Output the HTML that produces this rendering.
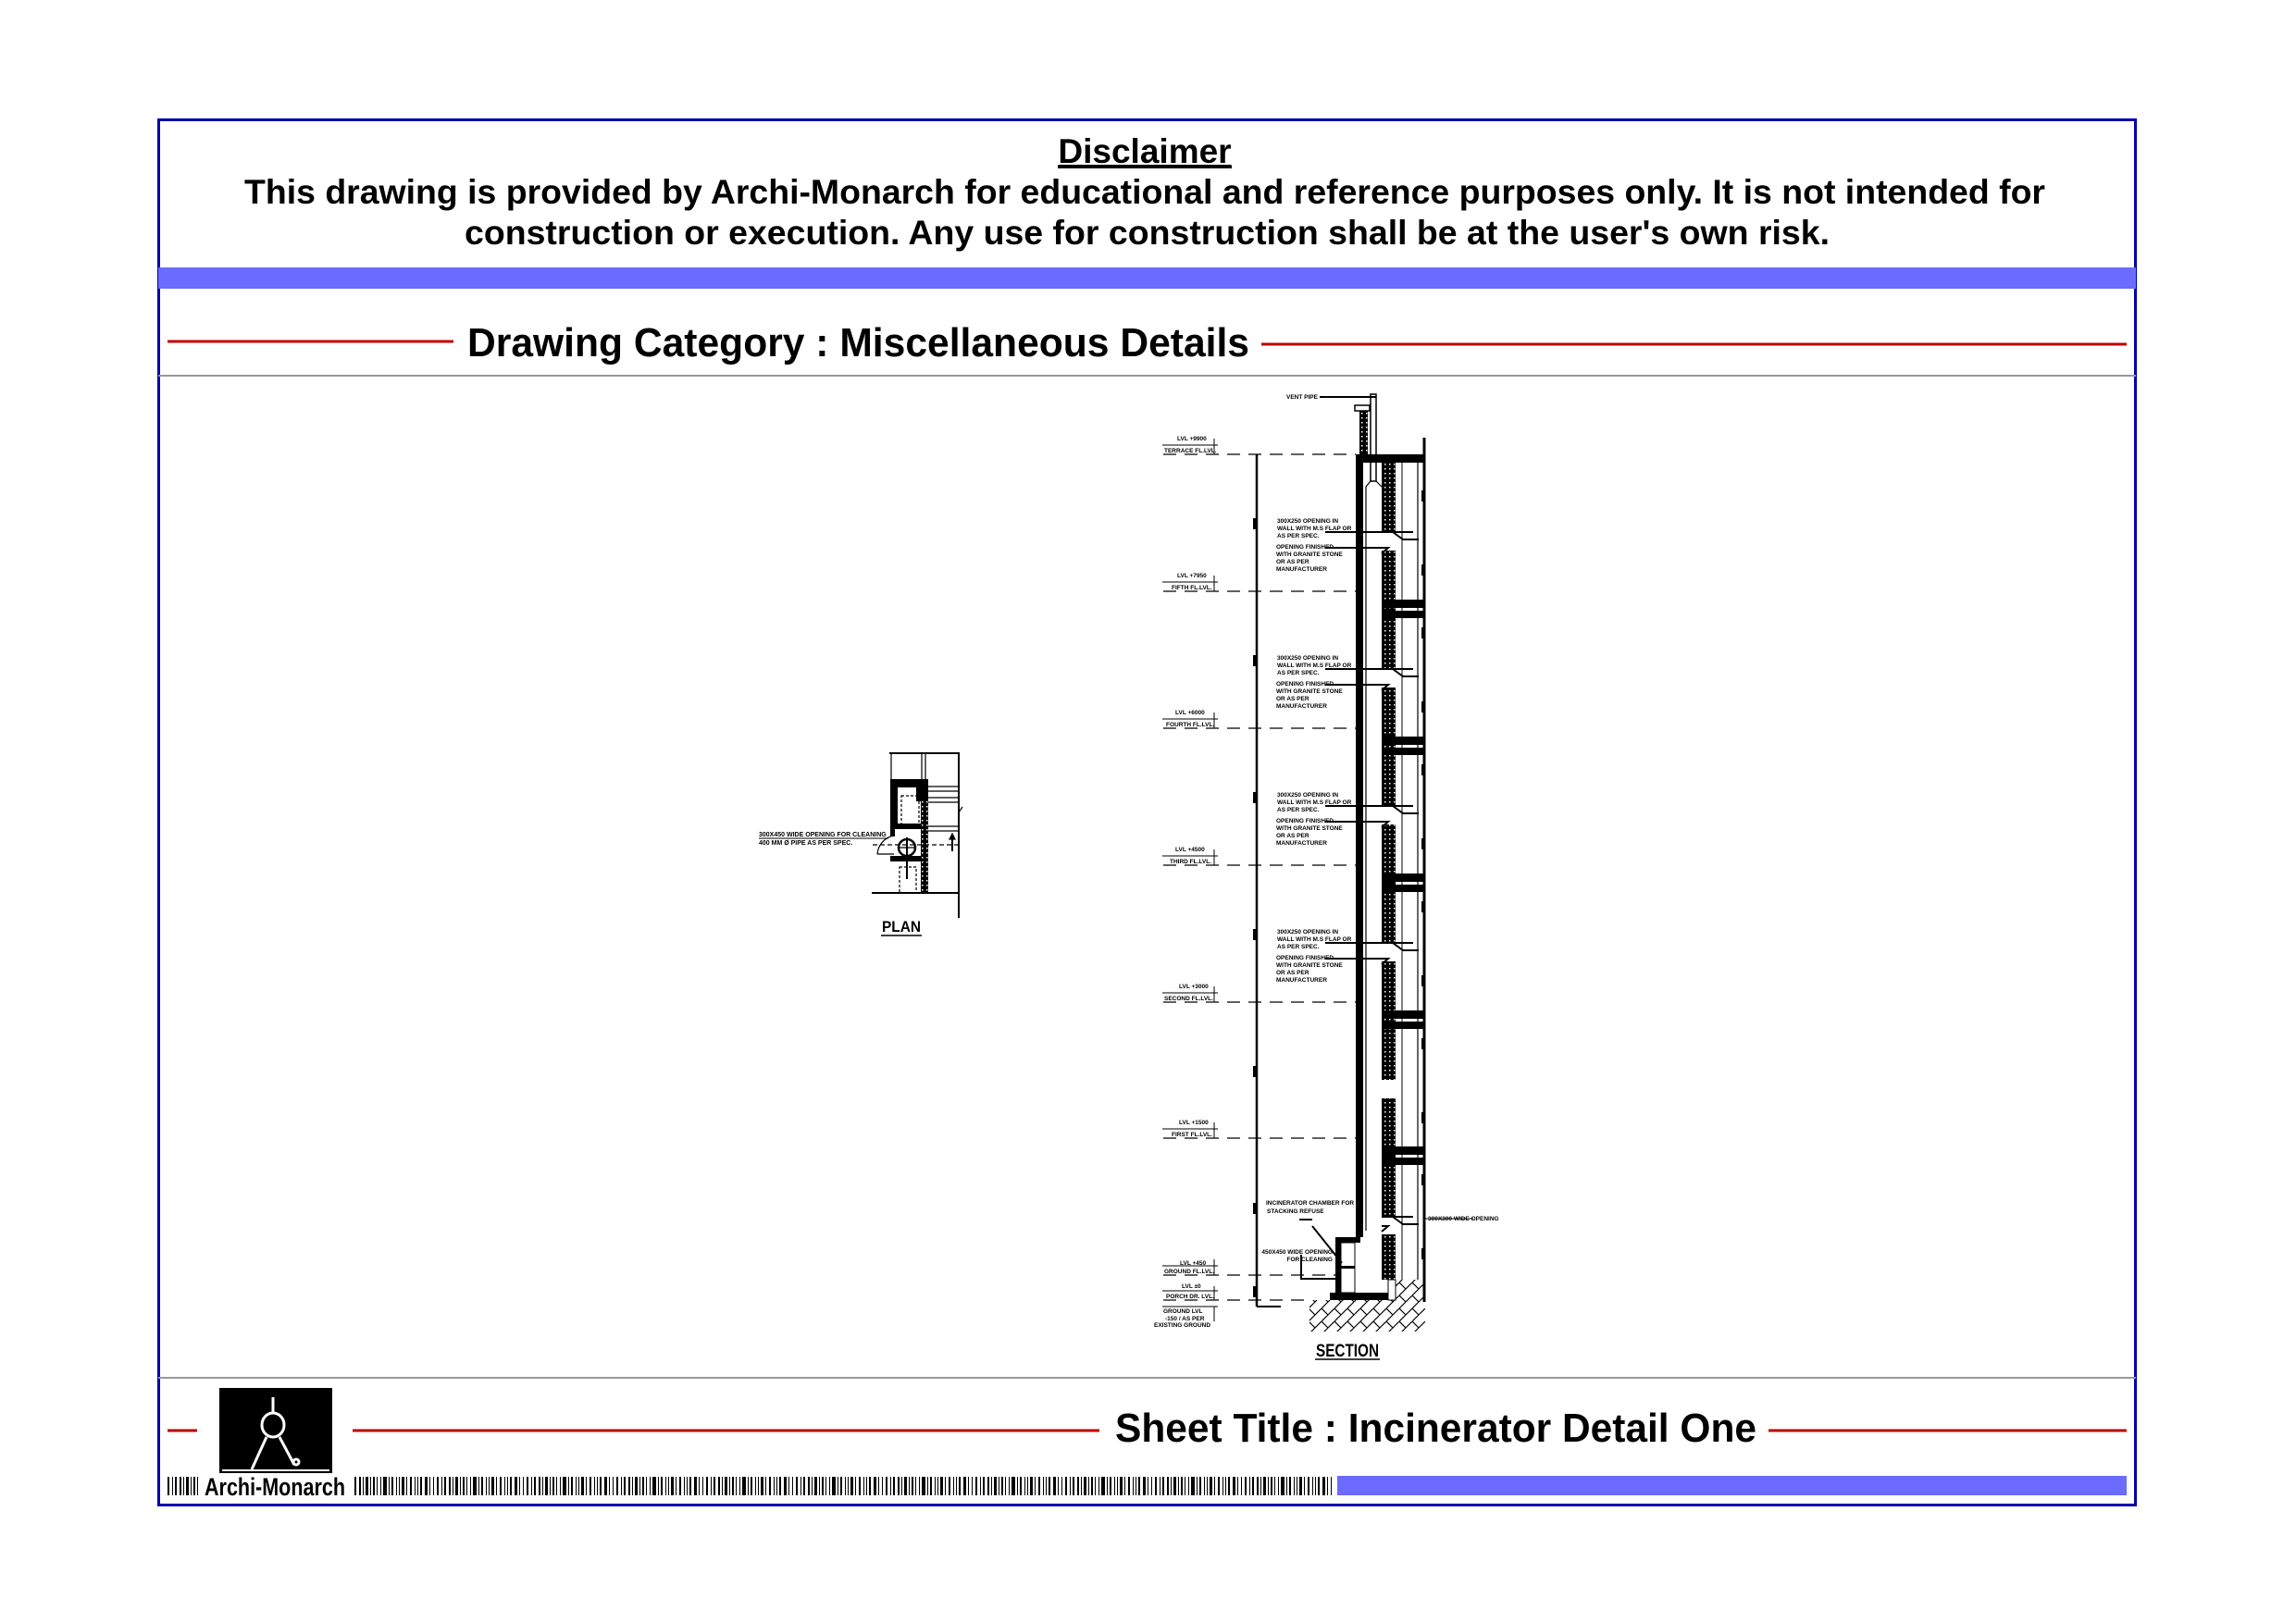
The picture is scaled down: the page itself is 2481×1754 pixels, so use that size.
<!DOCTYPE html>
<html><head><meta charset="utf-8"><style>
html,body{margin:0;padding:0;background:#fff;}
svg{display:block;}
text{font-family:"Liberation Sans",Arial,sans-serif;font-weight:bold;fill:#000;}
</style></head><body>
<svg width="2481" height="1754" viewBox="0 0 2481 1754" xmlns="http://www.w3.org/2000/svg">
<defs>
<pattern id="hatch" width="14" height="14" patternUnits="userSpaceOnUse">
<path d="M0 14L7 7M7 7L14 0M0 0L7 7" stroke="#000" stroke-width="1.2" fill="none"/>
</pattern>
<pattern id="dh" width="5" height="5" patternUnits="userSpaceOnUse">
<rect width="5" height="5" fill="#000"/><rect x="1" y="1" width="1.5" height="1.5" fill="#fff"/>
</pattern>
<pattern id="bc" width="97" height="20" patternUnits="userSpaceOnUse">
<rect x="0" width="2" height="20"/><rect x="4" width="1" height="20"/><rect x="7" width="3" height="20"/><rect x="12" width="1" height="20"/><rect x="15" width="2" height="20"/><rect x="19" width="1" height="20"/><rect x="23" width="1" height="20"/><rect x="26" width="4" height="20"/><rect x="32" width="1" height="20"/><rect x="35" width="2" height="20"/><rect x="40" width="1" height="20"/><rect x="43" width="1" height="20"/><rect x="46" width="3" height="20"/><rect x="51" width="1" height="20"/><rect x="55" width="2" height="20"/><rect x="60" width="1" height="20"/><rect x="63" width="1" height="20"/><rect x="66" width="2" height="20"/><rect x="71" width="3" height="20"/><rect x="76" width="1" height="20"/><rect x="80" width="1" height="20"/><rect x="84" width="2" height="20"/><rect x="89" width="1" height="20"/><rect x="92" width="2" height="20"/>
</pattern>
</defs>

<!-- frame -->
<rect x="171.5" y="129.5" width="2136" height="1497" fill="none" stroke="#0000aa" stroke-width="3"/>
<rect x="171" y="289" width="2137" height="23" fill="#6b6bff"/>
<line x1="171" y1="406" x2="2308" y2="406" stroke="#999" stroke-width="2"/>
<line x1="171" y1="1489" x2="2308" y2="1489" stroke="#999" stroke-width="2"/>

<!-- disclaimer -->
<text x="1237" y="176" font-size="37" text-anchor="middle" text-decoration="underline">Disclaimer</text>
<rect x="1143" y="179" width="188" height="3"/>
<text x="264" y="220" font-size="37" textLength="1946" lengthAdjust="spacingAndGlyphs">This drawing is provided by Archi-Monarch for educational and reference purposes only. It is not intended for</text>
<text x="502" y="264" font-size="37" textLength="1475" lengthAdjust="spacingAndGlyphs">construction or execution. Any use for construction shall be at the user's own risk.</text>

<!-- category -->
<line x1="181" y1="369" x2="490" y2="369" stroke="#c00000" stroke-width="3"/>
<text x="505" y="385" font-size="44" textLength="845" lengthAdjust="spacingAndGlyphs">Drawing Category : Miscellaneous Details</text>
<line x1="1363" y1="372" x2="2298" y2="372" stroke="#c00000" stroke-width="3"/>

<!-- bottom -->
<line x1="181" y1="1546" x2="213" y2="1546" stroke="#c00000" stroke-width="3"/>
<rect x="237" y="1500" width="122" height="92" fill="#000"/>
<g stroke="#fff" stroke-width="3" fill="none">
<line x1="295" y1="1510" x2="295" y2="1528"/>
<ellipse cx="295" cy="1540" rx="12" ry="13"/>
<line x1="288" y1="1553" x2="272" y2="1588"/>
<line x1="302" y1="1553" x2="318" y2="1583"/>
<circle cx="320" cy="1580" r="3"/>
<line x1="240" y1="1589" x2="356" y2="1589" stroke-width="2"/>
</g>
<line x1="381" y1="1546" x2="1188" y2="1546" stroke="#c00000" stroke-width="3"/>
<text x="1205" y="1558" font-size="44" textLength="693" lengthAdjust="spacingAndGlyphs">Sheet Title : Incinerator Detail One</text>
<line x1="1911" y1="1546" x2="2298" y2="1546" stroke="#c00000" stroke-width="3"/>
<rect x="181" y="1596" width="35" height="20" fill="url(#bc)"/>
<text x="221" y="1616" font-size="27" textLength="152" lengthAdjust="spacingAndGlyphs" font-weight="normal">Archi-Monarch</text>
<rect x="381" y="1596" width="1060" height="20" fill="url(#bc)"/>
<rect x="1445" y="1595" width="853" height="21" fill="#6b6bff"/>

<!-- PLAN -->
<g stroke="#000" fill="none" stroke-width="1.2">
<line x1="961" y1="814" x2="1037" y2="814" stroke-width="2"/>
<line x1="1036" y1="814" x2="1036" y2="992" stroke-width="2"/>
<line x1="942" y1="965" x2="1036" y2="965" stroke-width="2"/>
<line x1="963" y1="814" x2="963" y2="842"/><line x1="996" y1="814" x2="996" y2="842"/><line x1="1000" y1="814" x2="1000" y2="842"/>
<line x1="1003" y1="850" x2="1036" y2="850"/><line x1="1003" y1="855" x2="1036" y2="855"/>
<line x1="1003" y1="862" x2="1036" y2="862"/><line x1="1003" y1="867" x2="1036" y2="867"/>
<line x1="1003" y1="893" x2="1036" y2="893"/><line x1="1003" y1="898" x2="1036" y2="898"/>
<line x1="943" y1="913" x2="1036" y2="913" stroke-dasharray="5,3"/>
<path d="M948 923 A22 22 0 0 1 966 903"/>
<line x1="948" y1="923" x2="966" y2="923"/>
<circle cx="980" cy="916" r="9" stroke-width="2.5"/>
<line x1="980" y1="905" x2="980" y2="950" stroke-width="2"/>
<line x1="970" y1="916" x2="990" y2="916"/>
<rect x="974" y="860" width="19" height="32" stroke-dasharray="3,2"/>
<rect x="972" y="937" width="18" height="28" stroke-dasharray="3,2"/>
<line x1="1029" y1="902" x2="1029" y2="920" stroke-width="2"/>
<path d="M1026 907 L1029 901 L1032 907Z" fill="#000"/>
<line x1="1036" y1="878" x2="1040" y2="872"/>
</g>
<g fill="#000">
<rect x="962" y="842" width="41" height="9"/>
<rect x="962" y="842" width="8" height="50"/>
<rect x="990" y="842" width="13" height="24"/>
<rect x="995" y="866" width="8" height="99" fill="url(#dh)"/>
<rect x="962" y="890" width="33" height="6"/>
<rect x="962" y="925" width="33" height="6"/>
<rect x="962" y="896" width="5" height="8"/>
</g>
<line x1="820" y1="906" x2="960" y2="906" stroke="#000" stroke-width="1"/>
<text x="820" y="904" font-size="7">300X450 WIDE OPENING FOR CLEANING</text>
<text x="820" y="913" font-size="7">400 MM Ø PIPE AS PER SPEC.</text>
<text x="953" y="1007" font-size="17" textLength="42" lengthAdjust="spacingAndGlyphs">PLAN</text>
<line x1="952" y1="1011" x2="996" y2="1011" stroke="#000" stroke-width="1.5"/>

<!-- SECTION -->
<g stroke="#000" fill="none">
<!-- dimension line -->
<line x1="1358" y1="491" x2="1358" y2="1412" stroke-width="2.5"/>
<line x1="1358" y1="1412" x2="1384" y2="1412" stroke-width="2"/>
<!-- level dashed lines -->
<g stroke-width="1.2" stroke-dasharray="14,9">
<line x1="1257" y1="491" x2="1465" y2="491"/>
<line x1="1257" y1="639" x2="1465" y2="639"/>
<line x1="1257" y1="787" x2="1465" y2="787"/>
<line x1="1257" y1="935" x2="1465" y2="935"/>
<line x1="1257" y1="1083" x2="1465" y2="1083"/>
<line x1="1257" y1="1230" x2="1465" y2="1230"/>
<line x1="1257" y1="1378" x2="1443" y2="1378"/>
<line x1="1257" y1="1405" x2="1415" y2="1405"/>
</g>
<!-- level tags -->
<g stroke-width="1">
<path d="M1256 481H1316M1312 474V491"/><path d="M1256 629H1316M1312 622V639"/>
<path d="M1256 777H1316M1312 770V787"/><path d="M1256 925H1316M1312 918V935"/>
<path d="M1256 1073H1316M1312 1066V1083"/><path d="M1256 1220H1316M1312 1213V1230"/>
<path d="M1256 1368H1316M1312 1361V1378"/><path d="M1256 1395H1316M1312 1390V1405"/>
<path d="M1256 1412H1316M1312 1412V1428"/>
</g>
<!-- vent pipe -->
<line x1="1426" y1="429" x2="1487" y2="429" stroke-width="2"/>
<rect x="1481" y="426" width="6" height="94" stroke-width="1.5"/>
<rect x="1464" y="438" width="16" height="6" stroke-width="1.5"/>
<path d="M1481 520 L1476 526 V1330 M1487 520 L1493 526" stroke-width="1.2"/>
<!-- building outer lines -->
<line x1="1539" y1="473" x2="1539" y2="1407" stroke-width="3"/>
<line x1="1532" y1="500" x2="1532" y2="1383" stroke-width="1.2"/>
<line x1="1515" y1="500" x2="1515" y2="1383" stroke-width="1"/>
</g>
<g fill="#000">
<rect x="1469" y="444" width="9" height="47" fill="url(#dh)"/>
<rect x="1465" y="491" width="8" height="846"/>
<rect x="1465" y="491" width="74" height="9"/>
<!-- dim ticks -->
<rect x="1354" y="560" width="4" height="12"/><rect x="1354" y="708" width="4" height="12"/>
<rect x="1354" y="856" width="4" height="12"/><rect x="1354" y="1004" width="4" height="12"/>
<rect x="1354" y="1152" width="4" height="12"/><rect x="1354" y="1300" width="4" height="12"/>
<rect x="1354" y="1390" width="4" height="12"/>
</g>
<g id="floors">
<g fill="#000">
<rect x="1493" y="500" width="15" height="75" fill="url(#dh)"/><rect x="1493" y="595" width="15" height="73" fill="url(#dh)"/>
<rect x="1493" y="648" width="46" height="9"/><rect x="1493" y="660" width="46" height="8"/>
<rect x="1493" y="668" width="15" height="55" fill="url(#dh)"/><rect x="1493" y="743" width="15" height="73" fill="url(#dh)"/>
<rect x="1493" y="796" width="46" height="9"/><rect x="1493" y="808" width="46" height="8"/>
<rect x="1493" y="816" width="15" height="55" fill="url(#dh)"/><rect x="1493" y="891" width="15" height="73" fill="url(#dh)"/>
<rect x="1493" y="944" width="46" height="9"/><rect x="1493" y="956" width="46" height="8"/>
<rect x="1493" y="964" width="15" height="55" fill="url(#dh)"/><rect x="1493" y="1039" width="15" height="73" fill="url(#dh)"/>
<rect x="1493" y="1092" width="46" height="9"/><rect x="1493" y="1104" width="46" height="8"/>
<rect x="1493" y="1112" width="15" height="55" fill="url(#dh)"/><rect x="1493" y="1187" width="15" height="73" fill="url(#dh)"/>
<rect x="1493" y="1239" width="46" height="9"/><rect x="1493" y="1251" width="46" height="8"/>
<rect x="1493" y="1259" width="15" height="55" fill="url(#dh)"/><rect x="1493" y="1334" width="15" height="49" fill="url(#dh)"/>
<rect x="1536" y="530" width="4" height="12"/><rect x="1536" y="610" width="4" height="12"/>
<rect x="1536" y="678" width="4" height="12"/><rect x="1536" y="758" width="4" height="12"/>
<rect x="1536" y="826" width="4" height="12"/><rect x="1536" y="906" width="4" height="12"/>
<rect x="1536" y="974" width="4" height="12"/><rect x="1536" y="1054" width="4" height="12"/>
<rect x="1536" y="1122" width="4" height="12"/><rect x="1536" y="1202" width="4" height="12"/>
<rect x="1536" y="1269" width="4" height="12"/><rect x="1536" y="1349" width="4" height="12"/>
</g>
<g stroke="#000" fill="none" stroke-width="2">
<path d="M1432 575H1527M1505 575L1516 583H1533M1432 592H1500L1493 598"/>
<path d="M1432 723H1527M1505 723L1516 731H1533M1432 740H1500L1493 746"/>
<path d="M1432 871H1527M1505 871L1516 879H1533M1432 888H1500L1493 894"/>
<path d="M1432 1019H1527M1505 1019L1516 1027H1533M1432 1036H1500L1493 1042"/>
<path d="M1493 1315H1527M1505 1315L1516 1323H1533M1493 1325H1500L1493 1331"/>
<line x1="1539" y1="1317" x2="1592" y2="1317" stroke-width="1"/>
</g>
</g>
<!-- bottom chamber -->
<g fill="#000">
<rect x="1443" y="1337" width="27" height="6"/>
<rect x="1443" y="1337" width="6" height="64"/>
<rect x="1437" y="1397" width="63" height="8"/>
<rect x="1449" y="1368" width="15" height="3"/>
</g>
<g stroke="#000" fill="none">
<rect x="1449" y="1343" width="15" height="54" stroke-width="1"/>
<path d="M1418 1325L1450 1365" stroke-width="2"/>
<path d="M1404 1318H1418" stroke-width="2"/>
<path d="M1406 1356V1382H1443" stroke-width="2"/>
<rect x="1500" y="1383" width="8" height="22" stroke-width="1"/>
</g>
<rect x="1415" y="1405" width="125" height="34" fill="url(#hatch)"/>
<rect x="1508" y="1383" width="32" height="22" fill="url(#hatch)"/>

<!-- section text -->
<g font-size="6.5">
<text x="1390" y="431">VENT PIPE</text>
<text x="1272" y="476">LVL +9900</text><text x="1258" y="489">TERRACE FL.LVL.</text>
<text x="1272" y="624">LVL +7950</text><text x="1266" y="637">FIFTH FL.LVL.</text>
<text x="1270" y="772">LVL +6000</text><text x="1260" y="785">FOURTH FL.LVL.</text>
<text x="1270" y="920">LVL +4500</text><text x="1264" y="933">THIRD FL.LVL.</text>
<text x="1274" y="1068">LVL +3000</text><text x="1258" y="1081">SECOND FL.LVL.</text>
<text x="1274" y="1215">LVL +1500</text><text x="1266" y="1228">FIRST FL.LVL.</text>
<text x="1275" y="1367">LVL +450</text><text x="1258" y="1376">GROUND FL.LVL.</text>
<text x="1277" y="1392">LVL ±0</text><text x="1260" y="1403">PORCH DR. LVL.</text>
<text x="1257" y="1419">GROUND LVL</text><text x="1259" y="1427">-150 / AS PER</text><text x="1247" y="1434">EXISTING GROUND</text>
<text x="1380" y="565">300X250 OPENING IN</text><text x="1380" y="573">WALL WITH M.S FLAP OR</text><text x="1380" y="581">AS PER SPEC.</text>
<text x="1379" y="593">OPENING FINISHED</text><text x="1379" y="601">WITH GRANITE STONE</text><text x="1379" y="609">OR AS PER</text><text x="1379" y="617">MANUFACTURER</text>
<text x="1380" y="713">300X250 OPENING IN</text><text x="1380" y="721">WALL WITH M.S FLAP OR</text><text x="1380" y="729">AS PER SPEC.</text>
<text x="1379" y="741">OPENING FINISHED</text><text x="1379" y="749">WITH GRANITE STONE</text><text x="1379" y="757">OR AS PER</text><text x="1379" y="765">MANUFACTURER</text>
<text x="1380" y="861">300X250 OPENING IN</text><text x="1380" y="869">WALL WITH M.S FLAP OR</text><text x="1380" y="877">AS PER SPEC.</text>
<text x="1379" y="889">OPENING FINISHED</text><text x="1379" y="897">WITH GRANITE STONE</text><text x="1379" y="905">OR AS PER</text><text x="1379" y="913">MANUFACTURER</text>
<text x="1380" y="1009">300X250 OPENING IN</text><text x="1380" y="1017">WALL WITH M.S FLAP OR</text><text x="1380" y="1025">AS PER SPEC.</text>
<text x="1379" y="1037">OPENING FINISHED</text><text x="1379" y="1045">WITH GRANITE STONE</text><text x="1379" y="1053">OR AS PER</text><text x="1379" y="1061">MANUFACTURER</text>
<text x="1368" y="1302">INCINERATOR CHAMBER FOR</text><text x="1369" y="1311">STACKING REFUSE</text>
<text x="1440" y="1355" text-anchor="end">450X450 WIDE OPENING</text><text x="1440" y="1363" text-anchor="end">FOR CLEANING</text>
<text x="1543" y="1319">300X300 WIDE OPENING</text>
</g>
<text x="1422" y="1466" font-size="19" textLength="68" lengthAdjust="spacingAndGlyphs">SECTION</text>
<line x1="1421" y1="1469" x2="1491" y2="1469" stroke="#000" stroke-width="1.5"/>
</svg>
</body></html>
